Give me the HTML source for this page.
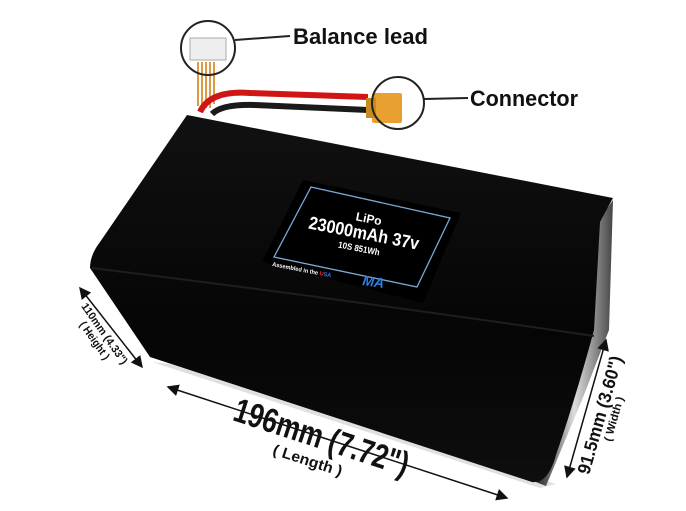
<!DOCTYPE html>
<html><head><style>
html,body{margin:0;padding:0;background:#fff;width:686px;height:511px;overflow:hidden}
svg{display:block}
text{font-family:"Liberation Sans",sans-serif;font-weight:bold}
</style></head><body>
<svg width="686" height="511" viewBox="0 0 686 511">
<defs>
<linearGradient id="g1" x1="0" y1="0" x2="0" y2="1">
<stop offset="0" stop-color="#111"/><stop offset="0.6" stop-color="#050505"/><stop offset="1" stop-color="#0e0e0e"/>
</linearGradient>
<linearGradient id="g2" x1="0" y1="0" x2="1" y2="0">
<stop offset="0" stop-color="#222"/><stop offset="0.5" stop-color="#ddd"/><stop offset="1" stop-color="#444"/>
</linearGradient>
<marker id="ah" markerWidth="8" markerHeight="8" refX="7" refY="4" orient="auto-start-reverse"><path d="M0,0 L8,4 L0,8 z" fill="#111"/></marker>
</defs>
<path d="M152,362 L540,488 L556,484 L170,364 z" fill="#ccc" opacity="0.6"/>
<path d="M598,222 L613,200 L609,330 L582,400 L546,486 L536,482 L588,340 Z" fill="url(#g2)"/>
<path d="M187,115 L613,198 L600,222 L594,330 Q575,400 556,455 Q548,484 532,482 L150,357 L90,268 Q90,255 100,242 Z" fill="url(#g1)"/>
<path d="M92,268 Q350,300 594,336" stroke="#1e1e1e" stroke-width="2" fill="none"/>
<polygon points="303,180 461,213 423,303 262,262" fill="#000"/>
<polygon points="311,187 450,218 417,287 274,257" fill="none" stroke="#7aa8d8" stroke-width="1.3"/>
<g transform="rotate(11 363 233)">
<text x="366" y="222" fill="#fff" font-size="12" text-anchor="middle" textLength="26" lengthAdjust="spacingAndGlyphs">LiPo</text>
<text x="364" y="239" fill="#fff" font-size="18" text-anchor="middle" textLength="112" lengthAdjust="spacingAndGlyphs">23000mAh 37v</text>
<text x="362" y="252" fill="#fff" font-size="9" text-anchor="middle" textLength="42" lengthAdjust="spacingAndGlyphs">10S 851Wh</text>
</g>
<text x="272" y="266" fill="#fff" font-size="6" transform="rotate(11 272 266)" textLength="60" lengthAdjust="spacingAndGlyphs">Assembled in the <tspan fill="#e33">U</tspan><tspan fill="#37f">SA</tspan></text>
<text x="362" y="285" fill="#2f7fe0" font-size="14" font-style="italic" transform="rotate(8 362 285)">MA</text>
<path d="M198,62 L198,106 M202,62 L202,108 M206,62 L206,108 M210,62 L210,108 M214,62 L214,104" stroke="#d94" stroke-width="2"/>
<path d="M200,112 Q210,90 250,93 L368,97" stroke="#d01515" stroke-width="6" fill="none"/>
<path d="M212,114 Q222,104 255,105 L368,110" stroke="#1a1a1a" stroke-width="6" fill="none"/>
<rect x="372" y="93" width="30" height="30" fill="#e8a030" rx="2"/>
<rect x="366" y="98" width="10" height="20" fill="#c98a20"/>
<rect x="190" y="38" width="36" height="22" fill="#eee" stroke="#aaa"/>
<circle cx="208" cy="48" r="27" fill="none" stroke="#222" stroke-width="2"/>
<line x1="235" y1="40" x2="290" y2="36" stroke="#222" stroke-width="2"/>
<text x="293" y="44" font-size="22" fill="#111" textLength="135" lengthAdjust="spacingAndGlyphs">Balance lead</text>
<circle cx="398" cy="103" r="26" fill="none" stroke="#222" stroke-width="2"/>
<line x1="424" y1="99" x2="468" y2="98" stroke="#222" stroke-width="2"/>
<text x="470" y="106" font-size="22" fill="#111" textLength="108" lengthAdjust="spacingAndGlyphs">Connector</text>
<line x1="80" y1="288" x2="142" y2="367" stroke="#111" stroke-width="1.5" marker-start="url(#ah)" marker-end="url(#ah)"/>
<line x1="168" y1="387" x2="507" y2="498" stroke="#111" stroke-width="1.5" marker-start="url(#ah)" marker-end="url(#ah)"/>
<line x1="606" y1="340" x2="567" y2="477" stroke="#111" stroke-width="1.5" marker-start="url(#ah)" marker-end="url(#ah)"/>
<g transform="translate(104,334) rotate(55)"><text x="0" y="3" font-size="11" text-anchor="middle" fill="#111" textLength="72" lengthAdjust="spacingAndGlyphs">110mm (4.33")</text><text x="0" y="15" font-size="11" text-anchor="middle" fill="#111" textLength="44" lengthAdjust="spacingAndGlyphs">( Height )</text></g>
<g transform="translate(318,448) rotate(18)"><text x="0" y="0" font-size="34" text-anchor="middle" fill="#111" textLength="182" lengthAdjust="spacingAndGlyphs">196mm (7.72")</text><text x="-6" y="20" font-size="15" text-anchor="middle" fill="#111" textLength="72" lengthAdjust="spacingAndGlyphs">( Length )</text></g>
<g transform="translate(600,415) rotate(-74)"><text x="0" y="6" font-size="18" text-anchor="middle" fill="#111" textLength="122" lengthAdjust="spacingAndGlyphs">91.5mm (3.60")</text><text x="0" y="18" font-size="11" text-anchor="middle" fill="#111" textLength="46" lengthAdjust="spacingAndGlyphs">( Width )</text></g>
</svg>
</body></html>
